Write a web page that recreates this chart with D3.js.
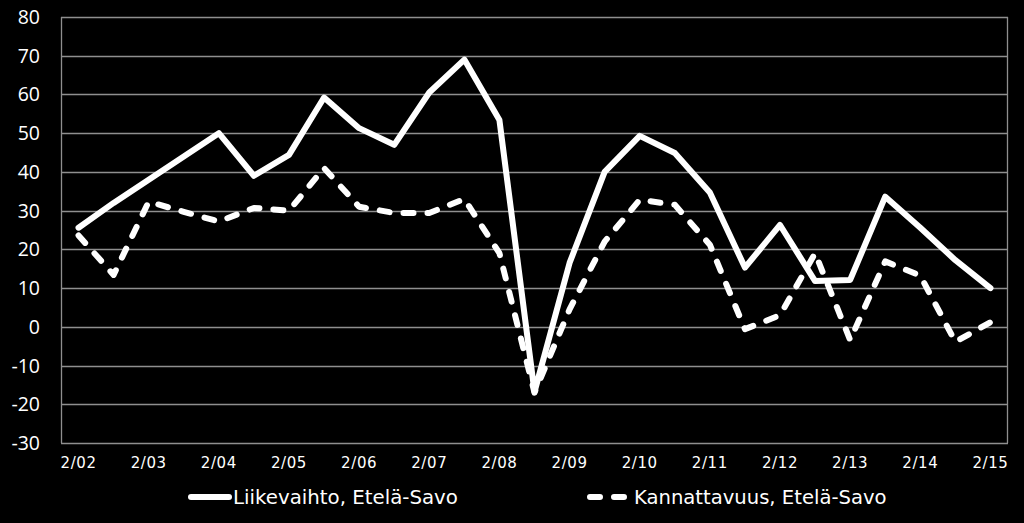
<!DOCTYPE html>
<html><head><meta charset="utf-8">
<script src="https://cdn.jsdelivr.net/npm/d3@7"></script>
<style>html,body{margin:0;padding:0;background:#000;}svg{display:block;}</style>
</head><body>
<svg id="c" width="1024" height="523"></svg>
<script>
const periods = ["2/02","8/02","2/03","8/03","2/04","8/04","2/05","8/05","2/06","8/06","2/07","8/07","2/08","8/08","2/09","8/09","2/10","8/10","2/11","8/11","2/12","8/12","2/13","8/13","2/14","8/14","2/15"];
const tickLabels = ["2/02","2/03","2/04","2/05","2/06","2/07","2/08","2/09","2/10","2/11","2/12","2/13","2/14","2/15"];
const liikevaihto = [25.6,32,38,44,50,39,44.4,59.2,51.3,47,60.5,69,53.4,-16.8,16.5,40,49.3,44.9,34.7,15.3,26.3,11.8,12.1,33.6,25.6,17.2,10];
const kannattavuus = [23.6,13.4,32.3,29.7,27.2,30.7,30,41,31,29.4,29.4,33,19,-17,4.5,22,32.8,31.5,21.2,-0.6,3,19,-3.4,16.9,13.2,-3.9,1.2];
const yTicks = [80,70,60,50,40,30,20,10,0,-10,-20,-30];
const seriesNames = ["Liikevaihto, Etelä-Savo","Kannattavuus, Etelä-Savo"];

const svg = d3.select("#c");
const L = 61, R = 1008, T = 17, B = 443;
const x = d3.scaleBand().domain(periods).range([L, R]).paddingInner(0).paddingOuter(0);
const y = d3.scaleLinear().domain([-30, 80]).range([B, T]);
const cx = d => x(d) + x.bandwidth() / 2;
const grid = "#8f8f8f";

svg.append("g").selectAll("line").data(yTicks).join("line")
  .attr("x1", L).attr("x2", R).attr("y1", d => Math.round(y(d)) + 0.5).attr("y2", d => Math.round(y(d)) + 0.5)
  .attr("stroke", grid).attr("stroke-width", 1.3);
svg.append("line").attr("x1", L + 0.5).attr("x2", L + 0.5).attr("y1", y(80)).attr("y2", y(-30)).attr("stroke", grid).attr("stroke-width", 1.3);
svg.append("line").attr("x1", R - 0.5).attr("x2", R - 0.5).attr("y1", y(80)).attr("y2", y(-30)).attr("stroke", grid).attr("stroke-width", 1.3);

svg.append("g").selectAll("text").data(yTicks).join("text")
  .attr("x", 40).attr("y", d => y(d)).attr("dy", "0.36em").attr("text-anchor", "end")
  .attr("fill", "#fff").attr("font-family", "'Open Sans', sans-serif").attr("font-size", 19.5)
  .text(d => d);

svg.append("g").selectAll("text").data(tickLabels).join("text")
  .attr("x", d => cx(d)).attr("y", 463).attr("dy", "0.36em").attr("text-anchor", "middle")
  .attr("fill", "#fff").attr("font-family", "'DejaVu Sans', sans-serif").attr("font-size", 15)
  .attr("letter-spacing", 0.6)
  .text(d => d);

const line = d3.line().x((d, i) => cx(periods[i])).y(d => y(d));
svg.append("path").datum(liikevaihto).attr("d", line).attr("fill", "none")
  .attr("stroke", "#fff").attr("stroke-width", 6).attr("stroke-linejoin", "round").attr("stroke-linecap", "round");
svg.append("path").datum(kannattavuus).attr("d", line).attr("fill", "none")
  .attr("stroke", "#fff").attr("stroke-width", 6).attr("stroke-linejoin", "round").attr("stroke-linecap", "round")
  .attr("stroke-dasharray", "10,14");

const lg = svg.append("g");
lg.append("line").attr("x1", 191).attr("x2", 229).attr("y1", 497).attr("y2", 497)
  .attr("stroke", "#fff").attr("stroke-width", 6).attr("stroke-linecap", "round");
lg.append("text").attr("x", 233).attr("y", 497).attr("dy", "0.36em").attr("fill", "#fff")
  .attr("font-family", "'DejaVu Sans', sans-serif").attr("font-size", 19.8).text(seriesNames[0]);
lg.append("line").attr("x1", 590).attr("x2", 630).attr("y1", 497).attr("y2", 497)
  .attr("stroke", "#fff").attr("stroke-width", 6).attr("stroke-linecap", "round").attr("stroke-dasharray", "10,14");
lg.append("text").attr("x", 634).attr("y", 497).attr("dy", "0.36em").attr("fill", "#fff")
  .attr("font-family", "'DejaVu Sans', sans-serif").attr("font-size", 19.6).text(seriesNames[1]);
</script>
</body></html>
